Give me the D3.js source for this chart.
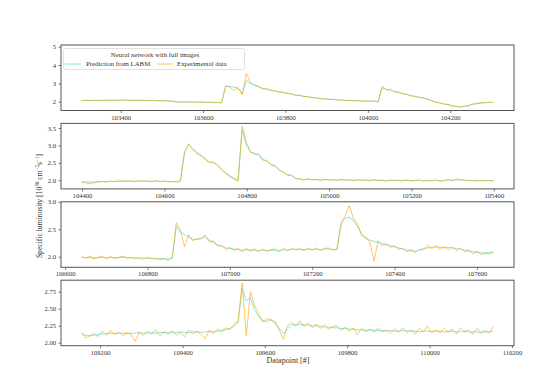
<!DOCTYPE html>
<html><head><meta charset="utf-8">
<script src="https://cdn.jsdelivr.net/npm/d3@7"></script>
<style>
html,body{margin:0;padding:0;background:#fff;}
svg{display:block;font-family:"Liberation Serif","Times New Roman",serif;}
</style></head>
<body><svg id="c" width="560" height="387"></svg>
<script>
// ---- data (datapoint index start, step 10) ----
const starts = [103305, 104399, 106640, 109155];
const step = 10;

const pred1 = [2.06,2.07,2.06,2.07,2.08,2.07,2.08,2.08,2.07,2.08,2.09,2.08,2.08,2.07,2.08,2.07,2.06,2.07,2.06,2.05,2.05,2.04,2.03,
1.99,1.98,1.99,1.98,1.98,1.97,1.98,1.97,1.96,1.96,1.95,1.95,
2.85,2.83,2.80,2.74,2.45,3.15,
3.00,2.92,2.80,2.72,2.68,2.63,2.58,2.54,2.50,2.46,2.41,2.36,2.33,2.30,2.26,2.23,2.20,2.18,2.15,2.13,2.12,2.10,2.09,2.07,2.06,2.06,2.05,2.04,2.04,2.03,2.02,2.01,
2.76,2.68,2.62,2.55,2.50,2.45,2.40,2.33,2.28,2.24,2.20,2.14,2.06,1.98,1.93,1.88,1.84,1.78,1.74,1.72,1.75,1.80,1.86,1.90,1.93,1.95,1.96,1.96];
const exp1 = [2.05,2.08,2.06,2.08,2.07,2.06,2.09,2.07,2.08,2.09,2.08,2.10,2.07,2.08,2.07,2.08,2.05,2.08,2.05,2.06,2.04,2.05,2.02,
2.00,1.97,2.00,1.99,1.97,1.98,1.99,1.96,1.98,1.95,1.96,1.93,
2.88,2.78,2.62,2.76,2.38,3.55,
3.05,2.88,2.84,2.70,2.71,2.60,2.60,2.52,2.51,2.44,2.42,2.34,2.35,2.28,2.27,2.22,2.21,2.16,2.16,2.12,2.13,2.09,2.10,2.06,2.08,2.05,2.06,2.03,2.05,2.02,2.04,1.99,
2.84,2.64,2.68,2.52,2.54,2.42,2.41,2.31,2.30,2.22,2.21,2.12,2.07,1.96,1.94,1.86,1.85,1.76,1.75,1.70,1.76,1.78,1.87,1.89,1.94,1.94,1.97,1.95];

const pred2 = [1.96,1.95,1.95,1.95,1.96,1.96,1.96,1.97,1.97,1.97,1.97,1.98,1.97,1.97,1.98,1.98,1.97,1.97,1.98,1.97,1.97,1.97,1.96,1.97,1.97,
2.82,3.02,2.90,2.80,2.72,2.62,2.52,2.50,2.45,2.32,2.22,2.13,2.06,2.00,
3.45,3.02,2.82,2.74,2.76,2.60,2.54,2.46,2.40,2.30,2.22,2.17,2.13,2.06,2.03,
2.02,2.03,2.02,2.02,2.01,2.02,2.02,2.01,2.01,2.02,2.01,2.01,2.00,2.01,2.01,2.00,2.00,2.01,2.00,2.00,1.99,2.00,2.00,1.99,2.00,2.00,1.99,1.99,2.00,1.99,1.99,1.99,2.00,1.99,1.99,2.01,2.00,2.01,2.02,2.01,2.00,1.99,2.00,1.99,1.99,1.99,1.99];
const exp2 = [1.95,1.93,1.90,1.93,1.95,1.97,1.95,1.98,1.96,1.98,1.99,1.97,1.98,1.96,1.99,1.97,1.98,1.96,1.99,1.96,1.98,1.95,1.97,1.94,1.98,
2.78,3.05,2.88,2.77,2.70,2.60,2.50,2.53,2.42,2.30,2.20,2.10,2.04,1.97,
3.55,3.10,2.80,2.78,2.72,2.58,2.57,2.43,2.42,2.28,2.24,2.14,2.15,2.04,2.05,
2.00,2.05,2.01,2.03,1.99,2.03,2.00,2.02,1.99,2.03,2.00,2.02,1.98,2.02,2.00,2.01,1.98,2.02,1.99,2.01,1.97,2.01,1.99,2.00,1.98,2.01,1.98,2.00,2.01,1.97,2.00,1.98,2.01,1.97,1.99,2.03,1.98,2.04,2.01,2.00,1.98,2.00,1.97,2.00,1.98,2.00,1.97];

const pred3 = [1.99,1.98,1.99,1.98,1.98,1.99,1.98,1.99,1.98,1.98,1.99,1.99,1.98,1.98,1.97,1.98,1.97,1.97,1.96,1.97,1.96,1.96,1.97,
2.55,2.45,2.40,2.36,2.32,2.31,2.34,2.36,2.30,2.26,2.22,2.19,2.16,2.15,
2.14,2.13,2.12,2.13,2.12,2.12,2.11,2.12,2.11,2.12,2.12,2.11,2.13,2.12,2.13,2.14,2.13,2.13,2.14,2.13,2.14,2.13,2.14,2.14,2.13,2.13,
2.62,2.70,2.72,2.66,2.55,2.42,2.33,2.30,2.28,2.26,2.24,2.22,2.20,2.18,2.16,2.14,2.12,2.11,2.10,2.12,2.15,2.16,2.17,2.18,2.17,2.16,2.17,2.16,2.15,2.14,2.12,2.10,2.09,2.08,2.07,2.07,2.08,2.08];
const exp3 = [2.00,1.97,2.01,1.96,1.99,2.01,1.96,2.00,1.97,1.99,2.01,1.97,1.99,1.96,1.98,1.95,1.99,1.96,1.97,1.94,1.97,1.93,1.98,
2.62,2.48,2.18,2.40,2.29,2.33,2.32,2.40,2.27,2.29,2.19,2.21,2.13,2.17,
2.11,2.15,2.09,2.15,2.10,2.14,2.09,2.14,2.10,2.13,2.14,2.09,2.15,2.11,2.15,2.12,2.15,2.11,2.16,2.12,2.16,2.11,2.15,2.16,2.12,2.14,
2.58,2.75,2.93,2.70,2.60,2.38,2.36,2.26,1.92,2.29,2.20,2.24,2.17,2.20,2.13,2.16,2.09,2.13,2.07,2.14,2.12,2.21,2.14,2.20,2.13,2.19,2.12,2.18,2.11,2.16,2.09,2.13,2.05,2.10,2.04,2.06,2.05,2.09];

const pred4 = [2.12,2.11,2.10,2.11,2.12,2.13,2.13,2.14,2.13,2.14,2.14,2.13,2.14,2.14,2.15,2.14,2.14,2.15,2.14,2.15,2.15,2.14,2.15,2.15,2.16,2.15,2.15,2.16,2.16,2.15,2.16,2.17,2.16,2.17,2.18,
2.19,2.21,2.24,2.30,2.80,2.62,2.66,2.48,2.38,2.33,2.31,2.34,2.29,2.21,2.13,2.20,2.26,2.27,2.27,
2.26,2.26,2.25,2.25,2.24,2.23,2.23,2.22,2.22,2.21,2.21,2.20,2.20,2.19,2.19,2.18,2.19,2.18,2.18,2.18,2.17,2.18,2.17,2.17,2.18,2.17,2.17,2.17,2.16,2.17,2.17,2.16,2.17,2.17,2.16,2.16,2.17,2.16,2.16,2.17,2.16,2.16,2.16,2.15,2.16,2.16,2.17];
const exp4 = [2.16,2.07,2.10,2.14,2.09,2.17,2.11,2.18,2.12,2.16,2.10,2.15,2.12,2.02,2.15,2.11,2.17,2.12,2.19,2.10,2.16,2.13,2.18,2.11,2.15,2.09,2.19,2.13,2.17,2.12,2.06,2.18,2.14,2.20,2.16,
2.22,2.19,2.27,2.32,2.88,2.10,2.75,2.55,2.42,2.30,2.36,2.33,2.31,2.18,2.05,2.25,2.30,2.24,2.32,
2.24,2.29,2.22,2.27,2.21,2.26,2.20,2.24,2.25,2.18,2.23,2.17,2.22,2.12,2.21,2.16,2.20,2.15,2.22,2.16,2.19,2.14,2.20,2.16,2.22,2.15,2.19,2.13,2.21,2.16,2.24,2.15,2.19,2.14,2.21,2.16,2.20,2.13,2.22,2.16,2.19,2.12,2.21,2.15,2.18,2.14,2.24];

const xTicks = [
  [103400,103600,103800,104000,104200],
  [104400,104600,104800,105000,105200,105400],
  [106600,106800,107000,107200,107400,107600],
  [109200,109400,109600,109800,110000,110200]
];
const yTicks = [[2,3,4,5],[2.0,2.5,3.0,3.5],[2.0,2.5,3.0],[2.00,2.25,2.50,2.75]];
const yFormats = ["d",".1f",".1f",".2f"];
const yDomains = [[1.52,5.09],[1.753,3.632],[1.807,3.0],[1.956,2.919]];
const preds = [pred1,pred2,pred3,pred4];
const exps = [exp1,exp2,exp3,exp4];

const legendTitle = "Neural network with full images";
const seriesNames = ["Prediction from LABM","Experimental data"];
const seriesColors = ["#40E0D0","#FFA500"];

// ---- layout ----
const svg = d3.select("#c");
const L = 61, R = 514, H = 65.5, tops = [45, 123.4, 201.8, 280.2];
const spine = "#555";

tops.forEach((top, k) => {
  const n = preds[k].length;
  const x0 = starts[k], x1 = starts[k] + (n - 1) * step;
  const pad = (x1 - x0) * 0.05;
  const x = d3.scaleLinear().domain([x0 - pad, x1 + pad]).range([L, R]);
  const y = d3.scaleLinear().domain(yDomains[k]).range([top + H, top]);
  const g = svg.append("g");
  const clipId = "clip" + k;
  svg.append("clipPath").attr("id", clipId).append("rect")
    .attr("x", L).attr("y", top).attr("width", R - L).attr("height", H);

  const line = d3.line().x((d, i) => x(starts[k] + i * step)).y(d => y(d));
  const plot = g.append("g").attr("clip-path", `url(#${clipId})`);
  plot.append("path").datum(preds[k]).attr("d", line)
    .attr("fill", "none").attr("stroke", seriesColors[0]).attr("stroke-width", 0.9).attr("stroke-opacity", 0.75);
  plot.append("path").datum(exps[k]).attr("d", line)
    .attr("fill", "none").attr("stroke", seriesColors[1]).attr("stroke-width", 0.9).attr("stroke-opacity", 0.7);

  const xa = g.append("g").attr("transform", `translate(0,${top + H})`)
    .call(d3.axisBottom(x).tickValues(xTicks[k]).tickFormat(d3.format("d")).tickSize(2.5).tickPadding(2));
  const ya = g.append("g").attr("transform", `translate(${L},0)`)
    .call(d3.axisLeft(y).tickValues(yTicks[k]).tickFormat(d3.format(yFormats[k])).tickSize(2.5).tickPadding(2.5));
  [xa, ya].forEach(a => {
    a.select(".domain").remove();
    a.selectAll("line").attr("stroke", spine).attr("stroke-width", 0.8);
    a.selectAll("text").attr("font-size", "6.6px").attr("fill", "#333")
      .attr("font-family", "Liberation Serif, serif");
  });
  g.append("rect").attr("x", L).attr("y", top).attr("width", R - L).attr("height", H)
    .attr("fill", "none").attr("stroke", spine).attr("stroke-width", 1);
});

// ---- legend ----
const lg = svg.append("g");
lg.append("rect").attr("x", 63.5).attr("y", 48.5).attr("width", 181).attr("height", 21)
  .attr("rx", 2).attr("fill", "#fff").attr("fill-opacity", 0.85).attr("stroke", "#d8d8d8").attr("stroke-width", 0.8);
lg.append("text").attr("x", 155).attr("y", 56.5).attr("text-anchor", "middle")
  .attr("font-size", "6.8px").attr("fill", "#333").text(legendTitle);
const lx = [[65, 81], [158, 173]];
const tx = [86, 177];
seriesNames.forEach((s, i) => {
  lg.append("line").attr("x1", lx[i][0]).attr("x2", lx[i][1]).attr("y1", 64).attr("y2", 64)
    .attr("stroke", seriesColors[i]).attr("stroke-width", 0.9).attr("stroke-opacity", 0.75);
  lg.append("text").attr("x", tx[i]).attr("y", 66.3).attr("font-size", "6.8px").attr("fill", "#333").text(s);
});

// ---- axis labels ----
svg.append("text").attr("x", 288).attr("y", 363).attr("text-anchor", "middle")
  .attr("font-size", "8px").attr("fill", "#333").text("Datapoint [#]");
const yl = svg.append("text").attr("transform", "translate(42,206) rotate(-90)")
  .attr("text-anchor", "middle").attr("font-size", "7.6px").attr("fill", "#333");
yl.append("tspan").text("Specific luminosity [10");
yl.append("tspan").attr("baseline-shift", "super").attr("font-size", "5.2px").text("30");
yl.append("tspan").text(" cm");
yl.append("tspan").attr("baseline-shift", "super").attr("font-size", "5.2px").text("−2");
yl.append("tspan").text("s");
yl.append("tspan").attr("baseline-shift", "super").attr("font-size", "5.2px").text("−1");
yl.append("tspan").text("]");
</script></body></html>
